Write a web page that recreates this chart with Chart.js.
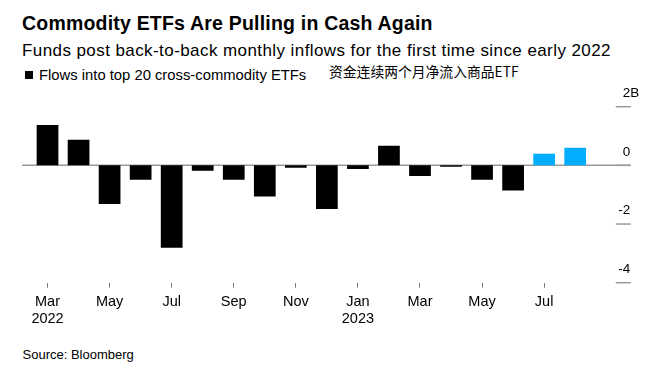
<!DOCTYPE html>
<html>
<head>
<meta charset="utf-8">
<script src="https://cdn.jsdelivr.net/npm/chart.js@4.4.0/dist/chart.umd.min.js"></script>
<style>
  body { margin: 0; background: #fff; }
  #wrap { position: relative; width: 659px; height: 376px; font-family: "Liberation Sans", Arial, sans-serif; color: #000; }
  #wrap div { position: absolute; line-height: 1; white-space: nowrap; }
  #myChart { position: absolute; left: 0; top: 0; }
</style>
</head>
<body>
<div id="wrap">
  <div style="left:22px; top:13.5px; font-size:19.5px; font-weight:bold; letter-spacing:0.2px;">Commodity ETFs Are Pulling in Cash Again</div>
  <div style="left:22px; top:41.5px; font-size:17px; letter-spacing:0.42px;">Funds post back-to-back monthly inflows for the first time since early 2022</div>
  <div style="left:25px; top:71px; width:8px; height:8px; background:#000;"></div>
  <div style="left:39px; top:67.5px; font-size:14.8px;">Flows into top 20 cross-commodity ETFs</div>
  <div style="left:329px; top:64.5px; font-size:13.8px; font-family:'Noto Sans CJK SC', sans-serif;">资金连续两个月净流入商品ETF</div>
  <div style="left:22.5px; top:347.5px; font-size:13px;">Source: Bloomberg</div>
  <canvas id="myChart" width="659" height="376"></canvas>
</div>
<script>
var months = ["2022-03", "2022-04", "2022-05", "2022-06", "2022-07", "2022-08", "2022-09", "2022-10", "2022-11",
              "2022-12", "2023-01", "2023-02", "2023-03", "2023-04", "2023-05", "2023-06", "2023-07", "2023-08"];
var flows = [1.38, 0.87, -1.32, -0.49, -2.81, -0.18, -0.49, -1.06, -0.08,
             -1.49, -0.12, 0.67, -0.36, -0.05, -0.49, -0.86, 0.40, 0.60]; // billions USD
var xTickLabels = [["Mar", "2022"], "", "May", "", "Jul", "", "Sep", "", "Nov",
                   "", ["Jan", "2023"], "", "Mar", "", "May", "", "Jul", ""];
var yTicks = [2, 0, -2, -4];
var yTickLabels = ["2", "0", "-2", "-4"];
var barColors = ["#000", "#000", "#000", "#000", "#000", "#000", "#000", "#000", "#000",
                 "#000", "#000", "#000", "#000", "#000", "#000", "#000", "#00adff", "#00adff"];

// zero line, right-hand tick marks and labels (labels sit above their marks)
var axisExtras = {
  id: "axisExtras",
  beforeDatasetsDraw: function(chart) {
    var ctx = chart.ctx;
    var area = chart.chartArea;
    var y = chart.scales.y;
    ctx.save();
    ctx.strokeStyle = "#9a9a9a";
    ctx.lineWidth = 1.5;
    var y0 = y.getPixelForValue(0);
    ctx.beginPath();
    ctx.moveTo(area.left - 10, y0);
    ctx.lineTo(area.right + 40, y0);
    ctx.stroke();
    ctx.font = '13.5px "Liberation Sans", Arial, sans-serif';
    ctx.fillStyle = "#000";
    ctx.textBaseline = "middle";
    yTicks.forEach(function(v, i) {
      var py = y.getPixelForValue(v);
      ctx.beginPath();
      ctx.moveTo(area.right + 25, py);
      ctx.lineTo(area.right + 40, py);
      ctx.stroke();
      ctx.textAlign = "right";
      ctx.fillText(yTickLabels[i], area.right + 39.5, py - 13.5);
      if (i === 0) {
        ctx.textAlign = "left";
        ctx.fillText("B", area.right + 39.5, py - 13.5);
      }
    });
    ctx.restore();
  }
};

new Chart("myChart", {
  type: "bar",
  data: {
    labels: months,
    datasets: [{
      data: flows,
      backgroundColor: barColors,
      categoryPercentage: 1,
      barPercentage: 0.7
    }]
  },
  options: {
    responsive: false,
    animation: false,
    layout: { padding: { left: 32, right: 68.3, top: 106.7, bottom: 43.3 } },
    plugins: { legend: { display: false }, tooltip: { enabled: false } },
    scales: {
      x: {
        afterFit: function(s) { s.height = 50; },
        border: { display: false },
        grid: {
          offset: false,
          drawOnChartArea: false,
          tickLength: 5,
          tickColor: function(c) { return xTickLabels[c.index] ? "#777" : "rgba(0,0,0,0)"; }
        },
        ticks: {
          autoSkip: false,
          maxRotation: 0,
          padding: 6,
          color: "#000",
          font: { family: '"Liberation Sans", Arial, sans-serif', size: 14.5, lineHeight: 1.15 },
          callback: function(v, i) { return xTickLabels[i]; }
        }
      },
      y: {
        display: false,
        min: -4,
        max: 2
      }
    }
  },
  plugins: [axisExtras]
});
</script>
</body>
</html>
